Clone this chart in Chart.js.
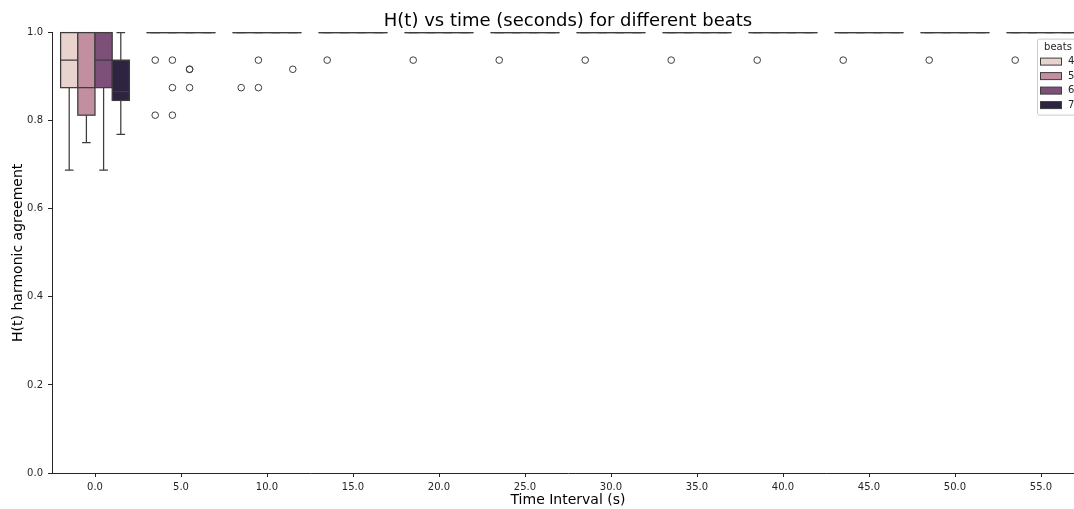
<!DOCTYPE html>
<html>
<head>
<meta charset="utf-8">
<script src="https://cdn.jsdelivr.net/npm/chart.js@4.4.1/dist/chart.umd.min.js"></script>
<style>
  html, body { margin: 0; padding: 0; background: #fff; overflow: hidden; }
  #wrap { position: relative; width: 1090px; height: 509px; }
</style>
</head>
<body>
<div id="wrap"><canvas id="grafico"></canvas></div>
<script>
// Intervalos de tiempo (posición de cada grupo de cajas) y niveles de "beats"
const timeIntervals = [0, 5, 10, 15, 20, 25, 30, 35, 40, 45, 50, 55];
const beats = [4, 5, 6, 7];
const xTickValues = [0, 5, 10, 15, 20, 25, 30, 35, 40, 45, 50, 55];
const yTickValues = [0, 0.2, 0.4, 0.6, 0.8, 1.0];

// Estadísticas de las cajas: una fila por beat, una columna por intervalo
const boxQ1 = [
  [0.875, 1, 1, 1, 1, 1, 1, 1, 1, 1, 1, 1],
  [0.8125, 1, 1, 1, 1, 1, 1, 1, 1, 1, 1, 1],
  [0.875, 1, 1, 1, 1, 1, 1, 1, 1, 1, 1, 1],
  [0.846, 1, 1, 1, 1, 1, 1, 1, 1, 1, 1, 1],
];
const boxMedian = [
  [0.9375, 1, 1, 1, 1, 1, 1, 1, 1, 1, 1, 1],
  [0.875, 1, 1, 1, 1, 1, 1, 1, 1, 1, 1, 1],
  [0.9375, 1, 1, 1, 1, 1, 1, 1, 1, 1, 1, 1],
  [0.866, 1, 1, 1, 1, 1, 1, 1, 1, 1, 1, 1],
];
const boxQ3 = [
  [1, 1, 1, 1, 1, 1, 1, 1, 1, 1, 1, 1],
  [1, 1, 1, 1, 1, 1, 1, 1, 1, 1, 1, 1],
  [1, 1, 1, 1, 1, 1, 1, 1, 1, 1, 1, 1],
  [0.9375, 1, 1, 1, 1, 1, 1, 1, 1, 1, 1, 1],
];
const whiskerLow = [
  [0.6875, 1, 1, 1, 1, 1, 1, 1, 1, 1, 1, 1],
  [0.75, 1, 1, 1, 1, 1, 1, 1, 1, 1, 1, 1],
  [0.6875, 1, 1, 1, 1, 1, 1, 1, 1, 1, 1, 1],
  [0.769, 1, 1, 1, 1, 1, 1, 1, 1, 1, 1, 1],
];
const whiskerHigh = [
  [1, 1, 1, 1, 1, 1, 1, 1, 1, 1, 1, 1],
  [1, 1, 1, 1, 1, 1, 1, 1, 1, 1, 1, 1],
  [1, 1, 1, 1, 1, 1, 1, 1, 1, 1, 1, 1],
  [1, 1, 1, 1, 1, 1, 1, 1, 1, 1, 1, 1],
];

// Valores atípicos: intervalo, beat y valor
const outlierTime = [5, 5, 5, 5, 5, 5, 5, 5, 10, 10, 10, 10, 15, 20, 25, 30, 35, 40, 45, 50, 55];
const outlierBeat = [4, 4, 5, 5, 5, 6, 6, 6, 4, 5, 5, 7, 4, 4, 4, 4, 4, 4, 4, 4, 4];
const outlierValue = [0.9375, 0.8125, 0.9375, 0.875, 0.8125, 0.9167, 0.9167, 0.875, 0.875, 0.9375, 0.875, 0.9167, 0.9375, 0.9375, 0.9375, 0.9375, 0.9375, 0.9375, 0.9375, 0.9375, 0.9375];

const beatColors = ["#e8d3cf", "#c18fa0", "#7d5079", "#2e2340"];
const lineColor = "#3d3d3d";
const fontFamily = "'DejaVu Sans', sans-serif";
const boxWidth = 1; // en unidades del eje x

const hueOffset = (beat) => (beats.indexOf(beat) - (beats.length - 1) / 2) * boxWidth;

// Plugin que dibuja las cajas con las escalas del gráfico
const boxPlotPlugin = {
  id: "boxPlot",
  beforeDatasetsDraw(chart) {
    const { ctx, scales: { x, y } } = chart;
    ctx.save();
    ctx.lineWidth = 1.25;
    ctx.strokeStyle = lineColor;
    beats.forEach((beat, h) => {
      timeIntervals.forEach((t, i) => {
        const xc = t + hueOffset(beat);
        const left = x.getPixelForValue(xc - boxWidth / 2);
        const right = x.getPixelForValue(xc + boxWidth / 2);
        const mid = x.getPixelForValue(xc);
        const capL = x.getPixelForValue(xc - boxWidth / 4);
        const capR = x.getPixelForValue(xc + boxWidth / 4);
        const q1 = y.getPixelForValue(boxQ1[h][i]);
        const q3 = y.getPixelForValue(boxQ3[h][i]);
        const med = y.getPixelForValue(boxMedian[h][i]);
        const lo = y.getPixelForValue(whiskerLow[h][i]);
        const hi = y.getPixelForValue(whiskerHigh[h][i]);

        // bigotes
        ctx.beginPath();
        ctx.moveTo(mid, q1); ctx.lineTo(mid, lo);
        ctx.moveTo(mid, q3); ctx.lineTo(mid, hi);
        ctx.moveTo(capL, lo); ctx.lineTo(capR, lo);
        ctx.moveTo(capL, hi); ctx.lineTo(capR, hi);
        ctx.stroke();

        // caja
        ctx.fillStyle = beatColors[h];
        ctx.fillRect(left, q3, right - left, q1 - q3);
        ctx.strokeRect(left, q3, right - left, q1 - q3);

        // mediana
        ctx.beginPath();
        ctx.moveTo(left, med); ctx.lineTo(right, med);
        ctx.stroke();
      });
    });
    ctx.restore();
  },
};

// Leyenda dentro del área del gráfico (como en matplotlib)
const legendPlugin = {
  id: "legendInside",
  afterDraw(chart) {
    const { ctx, chartArea } = chart;
    const w = 42, hgt = 76;
    const right = chartArea.right - 5;
    const left = right - w;
    const top = chartArea.top + 6;
    ctx.save();
    ctx.fillStyle = "rgba(255,255,255,0.8)";
    ctx.strokeStyle = "#cccccc";
    ctx.lineWidth = 1;
    ctx.beginPath();
    ctx.roundRect(left + 0.5, top + 0.5, w, hgt, 2);
    ctx.fill();
    ctx.stroke();
    ctx.fillStyle = "#262626";
    ctx.font = "10px " + fontFamily;
    ctx.textAlign = "center";
    ctx.textBaseline = "middle";
    ctx.fillText("beats", left + w / 2, top + 9);
    ctx.textAlign = "left";
    beats.forEach((beat, k) => {
      const yy = top + 23 + k * 14.5;
      ctx.fillStyle = beatColors[k];
      ctx.fillRect(left + 3.5, yy - 3.5, 21, 7);
      ctx.strokeStyle = lineColor;
      ctx.strokeRect(left + 3.5, yy - 3.5, 21, 7);
      ctx.fillStyle = "#262626";
      ctx.fillText(String(beat), left + 31, yy);
    });
    ctx.restore();
  },
};

const outlierData = outlierTime.map((t, k) => ({
  x: t + hueOffset(outlierBeat[k]),
  y: outlierValue[k],
}));

const ctx = document.getElementById("grafico").getContext("2d");
new Chart(ctx, {
  type: "scatter",
  data: {
    datasets: [
      {
        label: "outliers",
        data: outlierData,
        pointRadius: 3.3,
        pointBorderWidth: 1,
        pointBorderColor: lineColor,
        pointBackgroundColor: "rgba(0,0,0,0)",
        clip: false,
      },
    ],
  },
  options: {
    responsive: true,
    maintainAspectRatio: false,
    animation: false,
    layout: { padding: { left: 0, right: 6, top: 0, bottom: 0 } },
    plugins: {
      legend: { display: false },
      tooltip: { enabled: false },
      title: {
        display: true,
        fullSize: false,
        text: "H(t) vs time (seconds) for different beats",
        color: "#000",
        font: { family: fontFamily, size: 18, weight: "normal", lineHeight: 1.2 },
        padding: { top: 11, bottom: 0 },
      },
    },
    scales: {
      x: {
        type: "linear",
        min: -2.5,
        max: 57.5,
        afterBuildTicks: (scale) => {
          scale.ticks = xTickValues.map((v) => ({ value: v }));
        },
        afterFit: (scale) => { scale.height = 36; },
        ticks: {
          autoSkip: false,
          maxRotation: 0,
          padding: 4,
          color: "#262626",
          font: { family: fontFamily, size: 10 },
          callback: (v) => Number(v).toFixed(1),
        },
        grid: { drawOnChartArea: false, drawTicks: true, tickLength: 4, color: "#262626" },
        border: { display: true, color: "#262626", width: 1 },
        title: {
          display: true,
          text: "Time Interval (s)",
          color: "#000",
          font: { family: fontFamily, size: 14 },
          padding: { top: 0, bottom: 0 },
        },
      },
      y: {
        min: 0,
        max: 1,
        afterBuildTicks: (scale) => {
          scale.ticks = yTickValues.map((v) => ({ value: v }));
        },
        afterFit: (scale) => { scale.width = 52; },
        ticks: {
          padding: 5,
          color: "#262626",
          font: { family: fontFamily, size: 10 },
          callback: (v) => Number(v).toFixed(1),
        },
        grid: { drawOnChartArea: false, drawTicks: true, tickLength: 4, color: "#262626" },
        border: { display: true, color: "#262626", width: 1 },
        title: {
          display: true,
          text: "H(t) harmonic agreement",
          color: "#000",
          font: { family: fontFamily, size: 14 },
          padding: { top: 10, bottom: 0 },
        },
      },
    },
  },
  plugins: [boxPlotPlugin, legendPlugin],
});
</script>
</body>
</html>
